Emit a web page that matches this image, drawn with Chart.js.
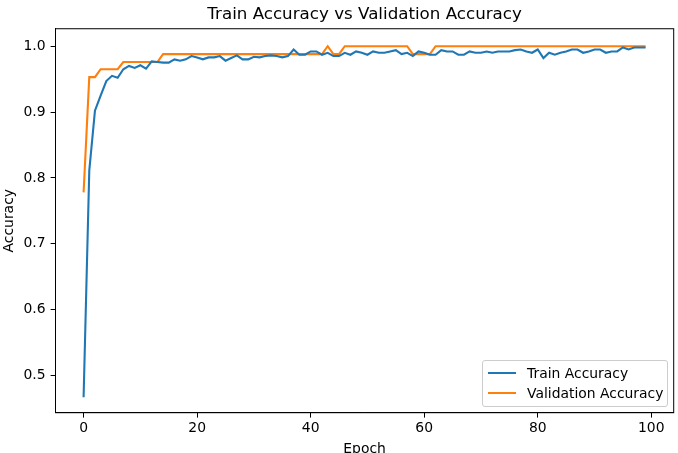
<!DOCTYPE html>
<html>
<head>
<meta charset="utf-8">
<title>Train Accuracy vs Validation Accuracy</title>
<script src="https://cdn.jsdelivr.net/npm/chart.js@4.4.0/dist/chart.umd.min.js"></script>
<style>
  html, body { margin: 0; padding: 0; background: #fff; }
  #wrap { position: relative; width: 678px; height: 453px; overflow: hidden; }
  #legend {
    position: absolute; left: 482px; top: 360px; width: 184px; height: 45px;
    border: 1px solid #cccccc; border-radius: 3px; background: rgba(255,255,255,0.8);
    font-family: "DejaVu Sans", sans-serif; font-size: 13.9px; color: #000;
  }
  .item { position: absolute; left: 0; height: 20px; white-space: nowrap; }
  .item span.swatch { position: absolute; left: 5px; top: 9px; width: 28px; height: 2px; }
  .item span.label { position: absolute; left: 44px; top: 1px; line-height: 18px; }
</style>
</head>
<body>
<div id="wrap">
  <canvas id="chart" width="678" height="453"></canvas>
  <div id="legend"></div>
</div>
<script>
// Epoch index 0..99
const epochs = Array.from({ length: 100 }, (_, i) => i);

const trainAccuracy = [
  0.467, 0.811, 0.902, 0.925, 0.947, 0.955, 0.952, 0.965, 0.970, 0.967,
  0.971, 0.966, 0.977, 0.976, 0.975, 0.975, 0.980, 0.978, 0.980, 0.985,
  0.983, 0.980, 0.983, 0.983, 0.985, 0.978, 0.982, 0.986, 0.980, 0.980,
  0.984, 0.983, 0.985, 0.986, 0.985, 0.983, 0.985, 0.995, 0.987, 0.987,
  0.992, 0.992, 0.987, 0.990, 0.985, 0.985, 0.990, 0.987, 0.992, 0.990,
  0.987, 0.992, 0.990, 0.990, 0.992, 0.994, 0.988, 0.990, 0.985, 0.992,
  0.990, 0.987, 0.987, 0.994, 0.992, 0.992, 0.987, 0.987, 0.992, 0.990,
  0.990, 0.992, 0.990, 0.992, 0.992, 0.992, 0.994, 0.995, 0.992, 0.990,
  0.995, 0.982, 0.990, 0.987, 0.990, 0.992, 0.995, 0.995, 0.990, 0.992,
  0.995, 0.995, 0.990, 0.992, 0.992, 0.998, 0.995, 0.998, 0.998, 0.998
];

const valAccuracy = [
  0.778, 0.953, 0.953, 0.965, 0.965, 0.965, 0.965, 0.976, 0.976, 0.976,
  0.976, 0.976, 0.976, 0.976, 0.988, 0.988, 0.988, 0.988, 0.988, 0.988,
  0.988, 0.988, 0.988, 0.988, 0.988, 0.988, 0.988, 0.988, 0.988, 0.988,
  0.988, 0.988, 0.988, 0.988, 0.988, 0.988, 0.988, 0.988, 0.988, 0.988,
  0.988, 0.988, 0.988, 1.000, 0.988, 0.988, 1.000, 1.000, 1.000, 1.000,
  1.000, 1.000, 1.000, 1.000, 1.000, 1.000, 1.000, 1.000, 0.988, 0.988,
  0.988, 0.988, 1.000, 1.000, 1.000, 1.000, 1.000, 1.000, 1.000, 1.000,
  1.000, 1.000, 1.000, 1.000, 1.000, 1.000, 1.000, 1.000, 1.000, 1.000,
  1.000, 1.000, 1.000, 1.000, 1.000, 1.000, 1.000, 1.000, 1.000, 1.000,
  1.000, 1.000, 1.000, 1.000, 1.000, 1.000, 1.000, 1.000, 1.000, 1.000
];

const xTicks = [0, 20, 40, 60, 80, 100];
const yTicks = [0.5, 0.6, 0.7, 0.8, 0.9, 1.0];

const FONT = '"DejaVu Sans", sans-serif';

// Axes frame on all four sides, like matplotlib
const framePlugin = {
  id: 'frame',
  afterDraw(chart) {
    const { ctx, chartArea: a } = chart;
    ctx.save();
    ctx.strokeStyle = '#000';
    ctx.lineWidth = 1;
    ctx.strokeRect(a.left, a.top, a.right - a.left, a.bottom - a.top);
    ctx.restore();
  },
};

const toPoints = (ys) => ys.map((y, i) => ({ x: epochs[i], y: y }));

const chart = new Chart(document.getElementById('chart'), {
  type: 'line',
  data: {
    datasets: [
      {
        label: 'Train Accuracy',
        data: toPoints(trainAccuracy),
        borderColor: '#1f77b4',
        backgroundColor: '#1f77b4',
        borderWidth: 2.1,
        pointRadius: 0,
        tension: 0,
      },
      {
        label: 'Validation Accuracy',
        data: toPoints(valAccuracy),
        borderColor: '#ff7f0e',
        backgroundColor: '#ff7f0e',
        borderWidth: 2.1,
        pointRadius: 0,
        tension: 0,
      },
    ],
  },
  options: {
    responsive: false,
    animation: false,
    events: [],
    layout: { padding: { left: 0, right: 4.3, top: 0, bottom: 0 } },
    plugins: {
      legend: { display: false },
      tooltip: { enabled: false },
      title: {
        display: true,
        text: 'Train Accuracy vs Validation Accuracy',
        fullSize: false,
        color: '#000',
        font: { family: FONT, size: 16.7, weight: 'normal', lineHeight: 1.2 },
        padding: { top: 5, bottom: 3.7 },
      },
    },
    scales: {
      x: {
        type: 'linear',
        min: -4.95,
        max: 103.95,
        afterFit(scale) { scale.height = 40.3; },
        afterBuildTicks(scale) { scale.ticks = xTicks.map((v) => ({ value: v })); },
        ticks: {
          color: '#000',
          font: { family: FONT, size: 13.9 },
          padding: 2,
          maxRotation: 0,
          callback: (v) => String(v),
        },
        grid: { drawOnChartArea: false, tickLength: 4.9, color: '#000', tickWidth: 1 },
        border: { display: true, color: '#000', width: 1 },
        title: {
          display: true,
          text: 'Epoch',
          color: '#000',
          font: { family: FONT, size: 13.9 },
          padding: { top: 0, bottom: -4.6 },
        },
      },
      y: {
        type: 'linear',
        min: 0.4435,
        max: 1.0265,
        afterFit(scale) { scale.width = 55.5; },
        afterBuildTicks(scale) { scale.ticks = yTicks.map((v) => ({ value: v })); },
        ticks: {
          color: '#000',
          font: { family: FONT, size: 13.9 },
          padding: 5,
          callback: (v) => Number(v).toFixed(1),
        },
        grid: { drawOnChartArea: false, tickLength: 4.9, color: '#000', tickWidth: 1 },
        border: { display: true, color: '#000', width: 1 },
        title: {
          display: true,
          text: 'Accuracy',
          color: '#000',
          font: { family: FONT, size: 13.9 },
          padding: { top: 1.5, bottom: 0 },
        },
      },
    },
  },
  plugins: [framePlugin],
});

// Legend box in the lower right of the axes
const legendEl = document.getElementById('legend');
chart.data.datasets.forEach((ds, i) => {
  const item = document.createElement('div');
  item.className = 'item';
  item.style.top = (2 + i * 20) + 'px';
  item.innerHTML =
    '<span class="swatch" style="background:' + ds.borderColor + '"></span>' +
    '<span class="label">' + ds.label + '</span>';
  legendEl.appendChild(item);
});
</script>
</body>
</html>
